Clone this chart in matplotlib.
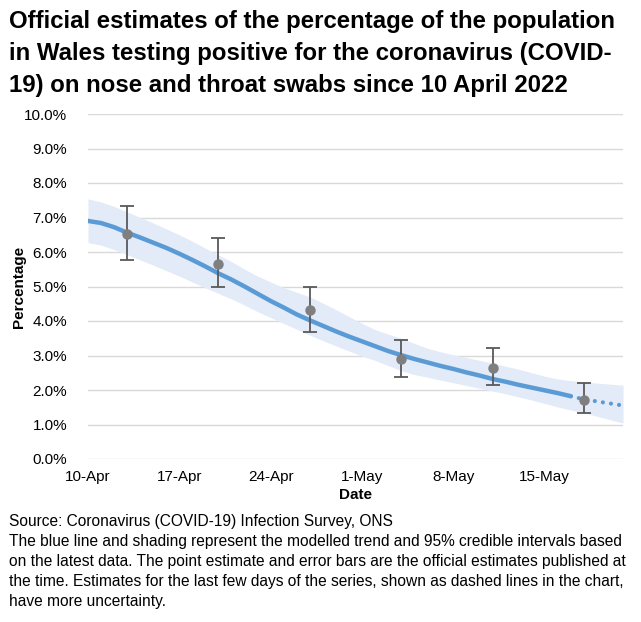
import matplotlib.pyplot as plt
import matplotlib.dates as mdates
import numpy as np
import pandas as pd

plt.rcParams['font.family'] = ['Liberation Sans', 'DejaVu Sans']

# modelled trend (daily, %) from 10 Apr to 21 May 2022
dates = pd.date_range('2022-04-10', '2022-05-21', freq='D')
trend = [6.90, 6.84, 6.72, 6.56, 6.42, 6.27, 6.12, 5.95, 5.77, 5.58,
         5.38, 5.20, 5.00, 4.79, 4.58, 4.39, 4.19, 4.02, 3.86, 3.70,
         3.55, 3.41, 3.27, 3.13, 3.01, 2.90, 2.80, 2.70, 2.61, 2.51,
         2.42, 2.32, 2.24, 2.15, 2.07, 1.99, 1.91, 1.82, 1.73, 1.67,
         1.61, 1.55]
upper = [7.54, 7.45, 7.32, 7.16, 7.00, 6.84, 6.67, 6.50, 6.31, 6.11,
         5.91, 5.72, 5.50, 5.30, 5.13, 4.97, 4.83, 4.70, 4.52, 4.33,
         4.13, 3.93, 3.75, 3.62, 3.50, 3.35, 3.21, 3.11, 3.02, 2.94,
         2.86, 2.78, 2.69, 2.60, 2.50, 2.40, 2.32, 2.27, 2.23, 2.20,
         2.17, 2.14]
lower = [6.27, 6.20, 6.07, 5.92, 5.77, 5.62, 5.46, 5.30, 5.13, 4.96,
         4.80, 4.64, 4.46, 4.27, 4.10, 3.93, 3.76, 3.59, 3.43, 3.28,
         3.13, 2.98, 2.86, 2.71, 2.56, 2.45, 2.37, 2.29, 2.21, 2.13,
         2.05, 1.97, 1.89, 1.80, 1.71, 1.61, 1.51, 1.42, 1.34, 1.24,
         1.14, 1.04]
n_dotted = 4  # last days shown dotted

# official point estimates with 95% intervals
est_dates = pd.to_datetime(['2022-04-13', '2022-04-20', '2022-04-27',
                            '2022-05-04', '2022-05-11', '2022-05-18'])
est = [6.52, 5.64, 4.32, 2.89, 2.63, 1.71]
est_hi = [7.33, 6.40, 4.99, 3.44, 3.21, 2.19]
est_lo = [5.77, 4.98, 3.68, 2.37, 2.14, 1.32]

tick_dates = pd.to_datetime(['2022-04-10', '2022-04-17', '2022-04-24',
                             '2022-05-01', '2022-05-08', '2022-05-15'])

line_col = '#5B9BD5'
band_col = '#E2EBF7'

fig = plt.figure(figsize=(6.41, 6.22), dpi=100)
ax = fig.add_axes([88/641, 1-459/622, 535/641, 345/622])

ax.fill_between(dates, lower, upper, color=band_col, lw=0, zorder=1)
solid_end = len(dates) - n_dotted
ax.plot(dates[:solid_end], trend[:solid_end], color=line_col, lw=3.2,
        solid_capstyle='round', zorder=3)
ax.plot(dates[solid_end-1:], trend[solid_end-1:], color=line_col, lw=3,
        linestyle=(0, (0.01, 1.95)), dash_capstyle='round', zorder=3)

yerr = [np.array(est) - np.array(est_lo), np.array(est_hi) - np.array(est)]
ax.errorbar(est_dates, est, yerr=yerr, fmt='o', color='#7F7F7F', ms=6.5,
            ecolor='#595959', elinewidth=1.3, capsize=5, capthick=1.3, zorder=4)

ax.set_xlim(dates[0], dates[-1])
ax.set_ylim(0, 10)
ax.set_yticks(np.arange(0, 10.01, 1))
ax.yaxis.set_major_formatter(plt.FuncFormatter(lambda v, p: f'{v:.1f}%'))
ax.set_xticks(tick_dates)
ax.xaxis.set_major_formatter(mdates.DateFormatter('%-d-%b'))
ax.grid(axis='y', color='#D9D9D9', lw=1)
ax.set_axisbelow(True)
for s in ax.spines.values():
    s.set_visible(False)
ax.tick_params(axis='both', length=0, labelsize=11, colors='#000000')
ax.tick_params(axis='y', pad=15)
ax.tick_params(axis='x', pad=8)

ax.set_xlabel('Date', fontsize=11, fontweight='bold', labelpad=3)
ax.set_ylabel('Percentage', fontsize=11, fontweight='bold')
ax.yaxis.set_label_coords(-0.115, 0.5)

fig.text(9/641, 1-10/622,
         'Official estimates of the percentage of the population\n'
         'in Wales testing positive for the coronavirus (COVID-\n'
         '19) on nose and throat swabs since 10 April 2022',
         fontsize=17.3, fontweight='bold', va='top', ha='left', linespacing=1.5)

fig.text(9/641, 1-514/622,
         'Source: Coronavirus (COVID-19) Infection Survey, ONS\n'
         'The blue line and shading represent the modelled trend and 95% credible intervals based\n'
         'on the latest data. The point estimate and error bars are the official estimates published at\n'
         'the time. Estimates for the last few days of the series, shown as dashed lines in the chart,\n'
         'have more uncertainty.',
         fontsize=11.2, va='top', ha='left', linespacing=1.42)

fig.savefig('out.png', dpi=100)
